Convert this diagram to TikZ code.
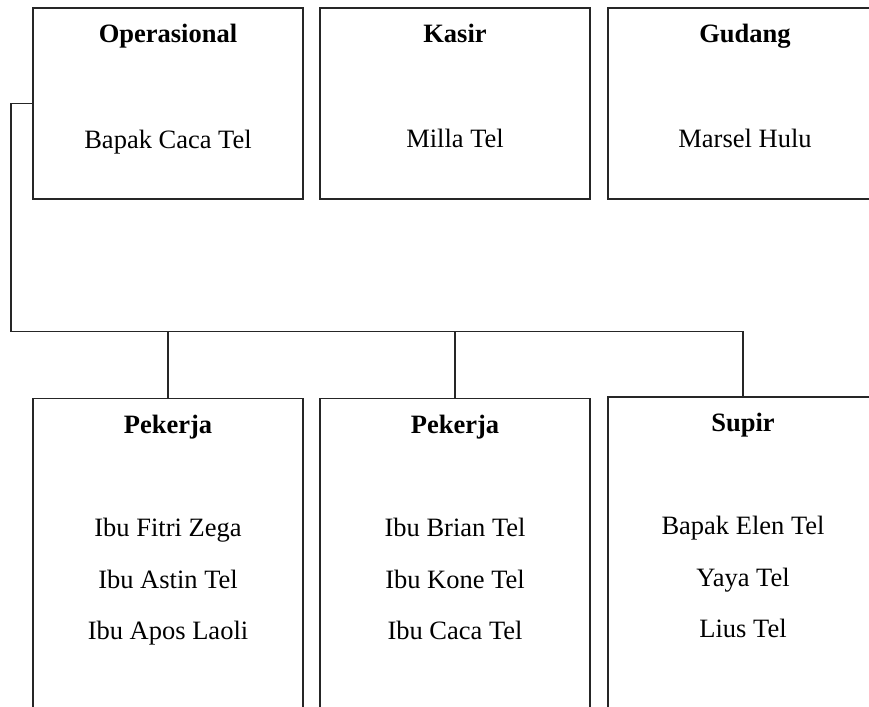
\documentclass[tikz,border=0pt]{standalone}
\usepackage{fontspec}
\setmainfont{Liberation Serif}
\begin{document}
\begin{tikzpicture}[x=1pt,y=-1pt,
  box/.style={draw=black!85,line width=1.1pt,inner sep=0pt},
  txt/.style={anchor=base,inner sep=0pt,font=\fontsize{26.5}{30}\selectfont},
  ttl/.style={txt,font=\fontsize{26.5}{30}\selectfont\bfseries},
  conn/.style={draw=black!85,line width=1.1pt}]
\useasboundingbox (0,0) rectangle (869,706);
\clip (0,0) rectangle (869,706);
% top boxes
\node[box,minimum width=270,minimum height=191] (op) at (168,103.5) {};
\node[box,minimum width=270,minimum height=191] (ks) at (455,103.5) {};
\node[box,minimum width=270,minimum height=191] (gd) at (743,103.5) {};
% bottom boxes
\node[box,minimum width=270,minimum height=360] (p1) at (168,578.5) {};
\node[box,minimum width=270,minimum height=360] (p2) at (455,578.5) {};
\node[box,minimum width=270,minimum height=360] (sp) at (743,577) {};
% texts top
\node[ttl] (t1) at (168,43) {Operasional};
\node[txt] (n1) at (168,148) {Bapak Caca Tel};
\node[ttl] (t2) at (455,43) {Kasir};
\node[txt] (n2) at (455,147) {Milla Tel};
\node[ttl] (t3) at (745,43) {Gudang};
\node[txt] (n3) at (745,147) {Marsel Hulu};
% texts bottom
\node[ttl] (t4) at (168,433) {Pekerja};
\node[txt] (n4a) at (168,536) {Ibu Fitri Zega};
\node[txt] (n4b) at (168,588) {Ibu Astin Tel};
\node[txt] (n4c) at (168,639) {Ibu Apos Laoli};
\node[ttl] (t5) at (455,433) {Pekerja};
\node[txt] (n5a) at (455,536) {Ibu Brian Tel};
\node[txt] (n5b) at (455,588) {Ibu Kone Tel};
\node[txt] (n5c) at (455,639) {Ibu Caca Tel};
\node[ttl] (t6) at (743,431) {Supir};
\node[txt] (n6a) at (743,534) {Bapak Elen Tel};
\node[txt] (n6b) at (743,586) {Yaya Tel};
\node[txt] (n6c) at (743,637) {Lius Tel};
% connectors
\coordinate (c1) at (11,331.5);
\path[conn] (op.west) -| (c1) -| (sp.north);
\path[conn] (p1.north) -- (p1.north |- c1);
\path[conn] (p2.north) -- (p2.north |- c1);
\end{tikzpicture}
\end{document}
